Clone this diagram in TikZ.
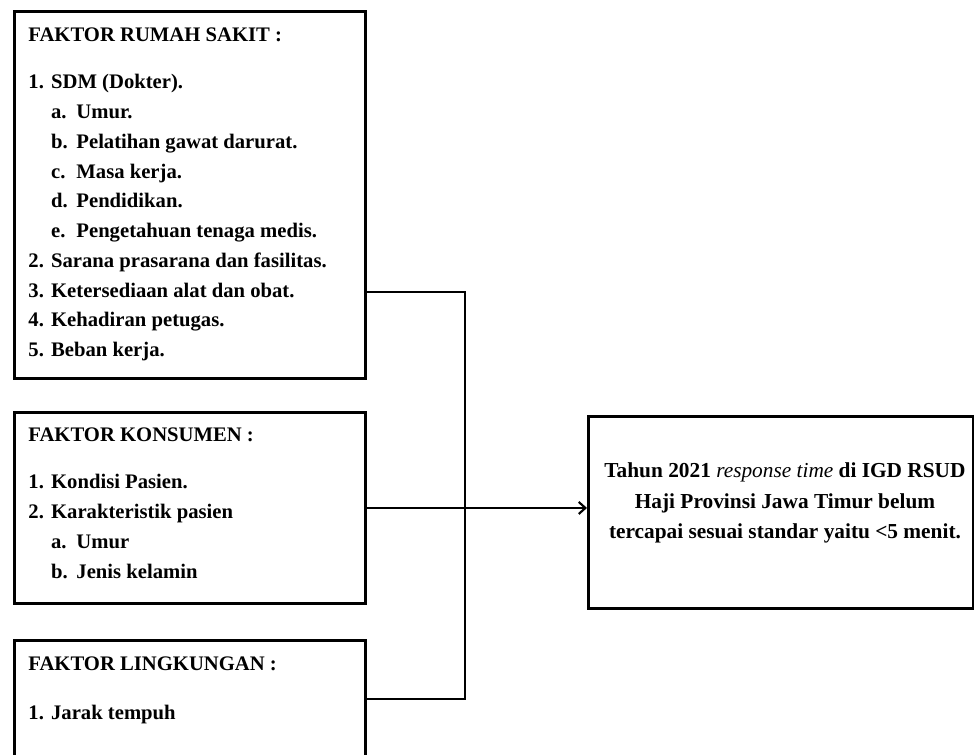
\documentclass[tikz,border=0pt]{standalone}
\usepackage{fontspec}
\setmainfont{Liberation Serif}
\usetikzlibrary{arrows.meta}
\newcommand{\nomor}[2]{\makebox[17pt][l]{#1}#2}
\newcommand{\huruf}[2]{\hspace*{17pt}\makebox[19pt][l]{#1}#2}

\begin{document}
\begin{tikzpicture}[x=0.75pt, y=-0.75pt, line width=2.2pt, >={Straight Barb[length=5pt,width=9pt,line width=1.6pt]}]
        \tikzstyle{faktor}=[draw, shape=rectangle, anchor=north west, inner sep=0pt, minimum width=263.25pt]
        \tikzstyle{isi}=[anchor=north west, inner sep=0pt, align=left, font=\bfseries\fontsize{15.5}{22.3}\selectfont]

        \clip (0,0) rectangle (974,755);

        \node[faktor, minimum height=275.25pt](rs) at (13,10){};
        \node[isi](rstxt) at (27,26){FAKTOR RUMAH SAKIT :\\[13.5pt]
            \nomor{1.}{SDM (Dokter).}\\
            \huruf{a.}{Umur.}\\
            \huruf{b.}{Pelatihan gawat darurat.}\\
            \huruf{c.}{Masa kerja.}\\
            \huruf{d.}{Pendidikan.}\\
            \huruf{e.}{Pengetahuan tenaga medis.}\\
            \nomor{2.}{Sarana prasarana dan fasilitas.}\\
            \nomor{3.}{Ketersediaan alat dan obat.}\\
            \nomor{4.}{Kehadiran petugas.}\\
            \nomor{5.}{Beban kerja.}};

        \node[faktor, minimum height=143.25pt](kons) at (13,411){};
        \node[isi](konstxt) at (27,426){FAKTOR KONSUMEN :\\[13.5pt]
            \nomor{1.}{Kondisi Pasien.}\\
            \nomor{2.}{Karakteristik pasien}\\
            \huruf{a.}{Umur}\\
            \huruf{b.}{Jenis kelamin}};

        \node[faktor, minimum height=98.25pt](ling) at (13,639){};
        \node[isi](lingtxt) at (27,655){FAKTOR LINGKUNGAN :\\[15pt]
            \nomor{1.}{Jarak tempuh}};

        \node[faktor, minimum width=288.75pt, minimum height=144pt](hasil) at (587,415){};
        \node[isi, align=center, anchor=center, font=\bfseries\fontsize{16}{22.8}\selectfont](hasiltxt) at (785,503){Tahun 2021 {\mdseries\itshape response time} di IGD RSUD\\
            Haji Provinsi Jawa Timur belum\\
            tercapai sesuai standar yaitu <5 menit.};

        \coordinate (atas) at (465,292);
        \coordinate (bawah) at (465,699);

        \draw (rs.east |- atas) -- (atas) -- (bawah) -- (ling.east |- bawah);
        \draw[->] (kons.east) -- (kons.east -| hasil.west);

        \end{tikzpicture}
\end{document}
